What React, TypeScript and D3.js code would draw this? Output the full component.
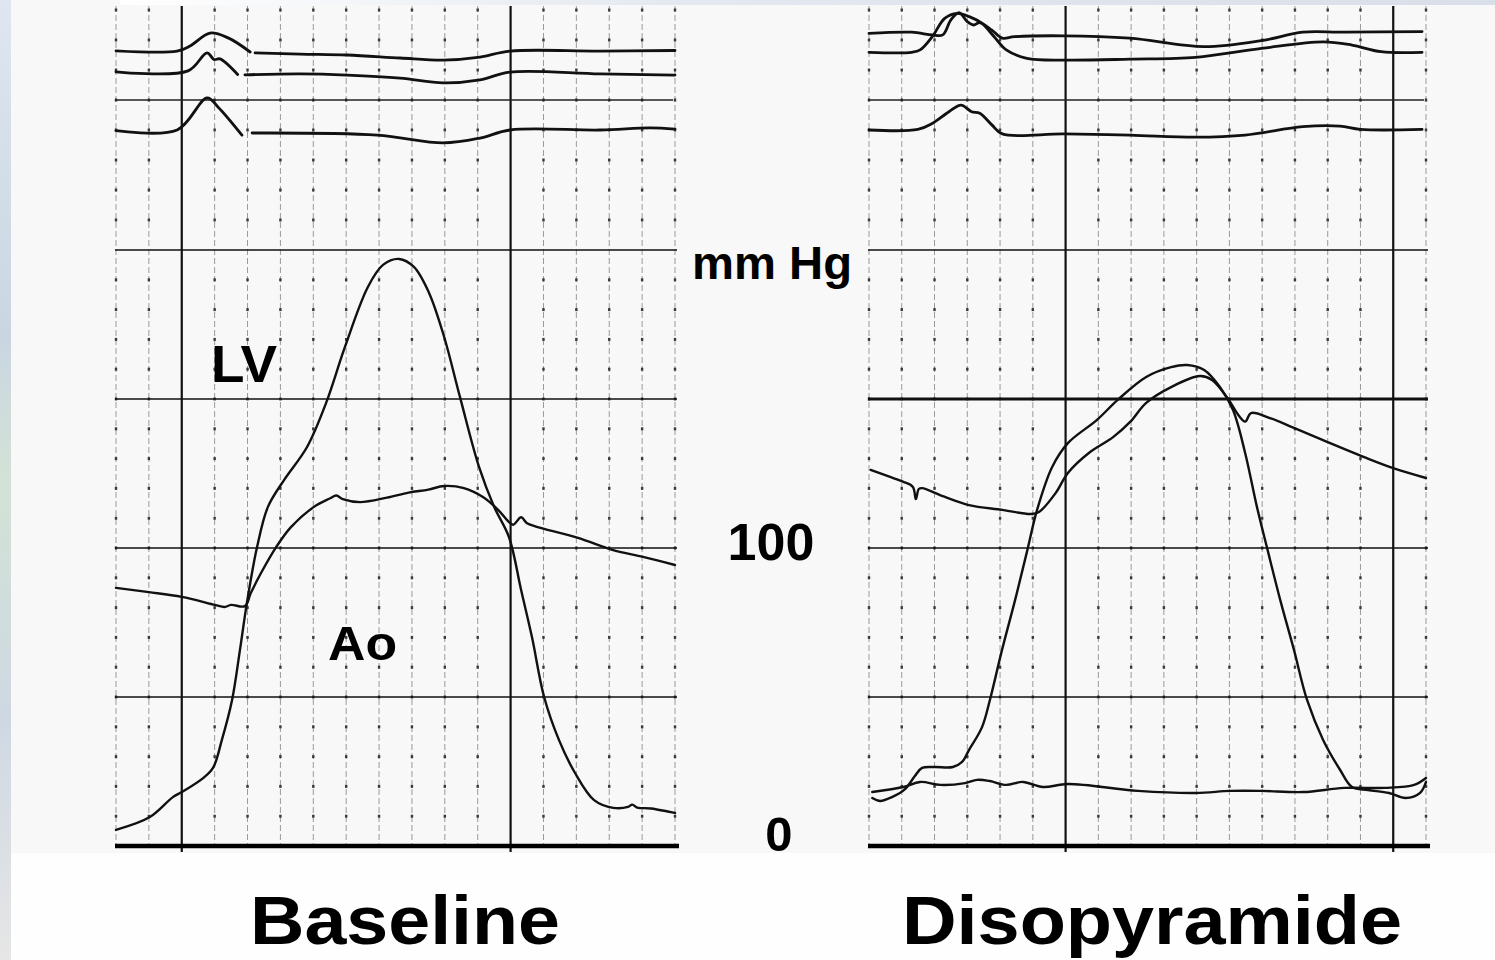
import React from 'react';
import * as d3 from 'd3';

type Pt = [number, number];

// ---- chart paper layout (small divisions along time) ----
const COLS = 17;
const pressureLines = [50, 100, 150, 200];
const tickLabels = ['0', '100'];
const tickValues = [0, 100];
const panelTitles = ['Baseline', 'Disopyramide'];
const baselineMajors = [2, 12];
const disoMajors = [6, 16];

// ---- Baseline: pressures in mmHg against time (small divisions) ----
const baselineLV: Pt[] = [
  [0, 5.4], [1.03, 9.7], [1.73, 16.4], [2.0, 18.1], [2.65, 22.8], [2.95, 26.2], [3.22, 35.6],
  [3.53, 49.0], [3.77, 65.8], [3.98, 81.5], [4.29, 100.3], [4.62, 113.8], [5.11, 122.8],
  [5.81, 133.9], [6.39, 148.7], [6.96, 167.4], [7.66, 187.6], [8.12, 195.0], [8.61, 197.0],
  [9.06, 194.3], [9.52, 185.6], [9.98, 170.8], [10.46, 150.7], [11.04, 127.2], [11.5, 113.8],
  [11.95, 103.7], [12.32, 85.9], [12.65, 70.1], [13.02, 50.0], [13.47, 35.6], [13.96, 24.5],
  [14.54, 15.4], [15.12, 12.8], [15.57, 13.1], [15.7, 13.9], [15.85, 12.9], [16.27, 12.6], [17, 11.1],
];

const baselineAo: Pt[] = [
  [0, 86.6], [1.0, 85.2], [2.0, 83.6], [3.01, 80.9], [3.3, 80.2], [3.5, 80.9], [3.92, 80.5],
  [4.1, 84.9], [4.41, 91.6], [4.87, 100.3], [5.32, 107.0], [6.02, 113.8], [6.5, 116.6],
  [6.7, 117.6], [6.9, 116.4], [7.42, 115.4], [8.24, 116.9], [8.9, 118.6], [9.5, 119.6],
  [9.98, 120.8], [10.58, 120.1], [11.16, 117.1], [11.62, 112.8], [11.95, 108.7],
  [12.08, 107.8], [12.32, 110.3], [12.5, 108.3], [12.77, 107.2], [14.05, 103.4],
  [15.12, 99.3], [16.03, 97.0], [17, 94.3],
];

// ---- Baseline: upper strip channels (divisions above the 200 mmHg line) ----
const baselineTop1: Pt[] = [
  [0, 6.64], [1.86, 6.63], [2.25, 6.8], [2.86, 7.23], [3.41, 7.07], [4.08, 6.6], [4.15, NaN],
  [4.23, 6.57], [5.6, 6.53], [7.03, 6.5], [8.64, 6.4], [9.95, 6.33], [11.07, 6.43],
  [11.98, 6.63], [14.72, 6.63], [17, 6.65],
];
const baselineTop2: Pt[] = [
  [0, 5.94], [2.19, 5.97], [2.77, 6.57], [2.98, 6.35], [3.16, 6.37], [3.7, 5.85], [3.8, NaN],
  [3.92, 5.84], [5.6, 5.87], [7.03, 5.83], [8.64, 5.73], [9.95, 5.57], [11.07, 5.67],
  [11.98, 5.93], [14.72, 5.87], [17, 5.83],
];
const baselineTop3: Pt[] = [
  [0, 3.98], [1.86, 4.0], [2.77, 5.07], [3.1, 4.77], [3.83, 3.83], [3.98, NaN],
  [4.14, 3.9], [7.94, 3.83], [9.95, 3.57], [11.07, 3.73], [11.98, 4.0], [14.72, 4.0],
  [16.24, 4.07], [17, 4.03],
];

// ---- Disopyramide: pressures in mmHg ----
const disoLV: Pt[] = [
  [0.1, 16.1], [0.34, 15.1], [0.7, 16.4], [1.1, 19.1], [1.4, 23.5], [1.62, 26.2], [2.01, 26.5],
  [2.56, 26.5], [2.84, 28.2], [3.05, 32.2], [3.45, 39.9], [3.69, 49.0], [4.06, 65.8],
  [4.46, 82.6], [4.82, 98.7], [5.13, 112.8], [5.59, 127.2], [6.07, 135.2], [6.96, 143.0],
  [7.59, 149.7], [8.46, 157.4], [9.22, 160.7], [9.71, 161.4], [10.23, 159.7], [10.71, 154.0],
  [11.11, 146.3], [11.48, 131.9], [11.84, 113.8], [12.18, 98.7], [12.55, 82.6], [12.97, 65.8],
  [13.37, 49.0], [13.86, 35.6], [14.38, 25.5], [14.74, 19.8], [15.23, 18.8], [15.87, 17.8],
  [16.38, 16.1], [16.82, 17.8], [17, 21.5],
];

const disoAo: Pt[] = [
  [0.05, 126.2], [0.6, 124.0], [1.05, 122.2], [1.34, 120.5], [1.43, 116.4], [1.52, 119.8],
  [1.62, 120.1], [2.3, 117.2], [3.05, 114.4], [4.06, 112.8], [4.95, 111.4], [5.19, 112.1],
  [5.7, 118.5], [6.07, 125.2], [6.71, 131.9], [7.45, 137.2], [7.97, 142.3], [8.46, 148.7],
  [9.22, 154.0], [10.1, 157.7], [10.47, 156.4], [10.98, 149.7], [11.23, 145.3], [11.48, 142.4],
  [11.66, 145.3], [12.24, 143.6], [12.97, 140.3], [13.98, 135.6], [15.11, 130.5],
  [16.0, 126.8], [17, 123.5],
];

const disoLow: Pt[] = [
  [0.1, 18.1], [1.05, 19.8], [1.56, 21.5], [2.18, 20.5], [2.93, 21.1], [3.3, 22.2], [3.69, 21.8],
  [4.18, 20.5], [4.7, 21.5], [5.31, 19.8], [6.07, 20.8], [8.21, 18.5], [9.98, 17.8],
  [11.02, 18.5], [11.98, 18.5], [13.25, 18.1], [14.5, 19.5], [15.75, 19.5], [16.64, 20.5],
  [17, 22.8],
];

// ---- Disopyramide: upper strip channels ----
const disoTop1: Pt[] = [
  [0, 7.22], [1.3, 7.26], [1.93, 7.17], [2.25, 7.17], [2.5, 7.67], [2.75, 7.91], [3.0, 7.61],
  [3.19, 7.5], [3.38, 7.58], [3.75, 7.33], [4.07, 7.06], [4.44, 7.11], [5.95, 7.14],
  [7.96, 7.06], [10.22, 6.78], [11.98, 6.98], [13.24, 7.26], [14.49, 7.26], [16.88, 7.28],
];
const disoTop2: Pt[] = [
  [0, 6.59], [1.3, 6.59], [1.56, 6.67], [1.93, 7.11], [2.31, 7.72], [2.69, 7.89], [3.06, 7.78],
  [3.44, 7.56], [3.82, 7.11], [4.19, 6.67], [4.82, 6.39], [5.95, 6.33], [7.96, 6.36],
  [9.97, 6.42], [11.98, 6.72], [13.87, 6.94], [14.74, 6.83], [15.63, 6.61], [16.88, 6.59],
];
const disoTop3: Pt[] = [
  [0, 4.0], [1.49, 4.02], [1.93, 4.22], [2.44, 4.61], [2.81, 4.83], [3.13, 4.61], [3.38, 4.56],
  [3.75, 4.17], [4.07, 3.87], [5.95, 3.87], [7.96, 3.83], [9.97, 3.76], [11.48, 3.83],
  [13.24, 4.11], [14.37, 4.13], [15.0, 4.02], [16.88, 4.02],
];

const W = 1495;
const H = 960;
const FONT = '"Liberation Sans", Arial, Helvetica, sans-serif';
const INK = '#111';

const yScale = d3.scaleLinear().domain([0, 200]).range([846, 250]);
const stripScale = d3.scaleLinear().domain([0, 8]).range([250, 10]);

type Panel = {
  title: string;
  x: d3.ScaleLinear<number, number>;
  majors: number[];
  heavy150: boolean;
  titleX: number;
  titleLen: number;
  pressure: Pt[][];
  strip: Pt[][];
};

const panels: Panel[] = [
  {
    title: panelTitles[0],
    x: d3.scaleLinear().domain([0, COLS]).range([116, 675]),
    majors: baselineMajors,
    heavy150: false,
    titleX: 250,
    titleLen: 310,
    pressure: [baselineAo, baselineLV],
    strip: [baselineTop1, baselineTop2, baselineTop3],
  },
  {
    title: panelTitles[1],
    x: d3.scaleLinear().domain([0, COLS]).range([869, 1426]),
    majors: disoMajors,
    heavy150: true,
    titleX: 902,
    titleLen: 500,
    pressure: [disoLow, disoAo, disoLV],
    strip: [disoTop1, disoTop2, disoTop3],
  },
];

function PanelGrid({ p }: { p: Panel }) {
  const cols = d3.range(0, COLS + 1);
  const [x0, x1] = p.x.range();
  const dotLevels = [
    ...d3.range(10, 200, 10).map((v) => yScale(v)),
    ...d3.range(1, 9).map((k) => stripScale(k)),
  ];
  return (
    <g>
      {cols.map((c) => {
        const major = p.majors.includes(c);
        const xx = p.x(c);
        return major ? (
          <line key={c} x1={xx} x2={xx} y1={6} y2={852} stroke={INK} strokeWidth={2.2} />
        ) : (
          <g key={c}>
            <line x1={xx} x2={xx} y1={6} y2={846} stroke="#9a9a9a" strokeWidth={1}
              strokeDasharray="6 3" />
            {dotLevels.map((yy, i) => (
              <rect key={i} x={xx - 1.2} y={yy - 1.5} width={2.4} height={3} fill="#3a3a3a" />
            ))}
          </g>
        );
      })}
      {pressureLines.map((v) => (
        <line key={v} x1={x0 - 1} x2={x1 + 2} y1={yScale(v)} y2={yScale(v)} stroke={INK}
          strokeWidth={p.heavy150 && v === 150 ? 3 : 1.6} />
      ))}
      <line x1={x0 - 1} x2={x1 - 2} y1={stripScale(5)} y2={stripScale(5)} stroke="#222"
        strokeWidth={1.6} />
      <line x1={x0 - 1} x2={x1 + 4} y1={yScale(0)} y2={yScale(0)} stroke="#000" strokeWidth={4.5} />
    </g>
  );
}

function PanelTraces({ p }: { p: Panel }) {
  const pressureLine = d3
    .line<Pt>()
    .defined((d) => !Number.isNaN(d[1]))
    .x((d) => p.x(d[0]))
    .y((d) => yScale(d[1]))
    .curve(d3.curveCatmullRom.alpha(0.5));
  const stripLine = d3
    .line<Pt>()
    .defined((d) => !Number.isNaN(d[1]))
    .x((d) => p.x(d[0]))
    .y((d) => stripScale(d[1]))
    .curve(d3.curveCatmullRom.alpha(0.5));
  return (
    <g fill="none" stroke={INK} strokeLinejoin="round" strokeLinecap="round">
      {p.pressure.map((s, i) => (
        <path key={'p' + i} d={pressureLine(s) || ''} strokeWidth={2.4} />
      ))}
      {p.strip.map((s, i) => (
        <path key={'s' + i} d={stripLine(s) || ''} strokeWidth={2.8} />
      ))}
    </g>
  );
}

export default function App() {
  return (
    <svg
      width={W}
      height={H}
      viewBox={`0 0 ${W} ${H}`}
      style={{ position: 'absolute', left: 0, top: 0, display: 'block', background: '#fff' }}
    >
      <defs>
        <linearGradient id="edge" x1="0" x2="0" y1="0" y2="1">
          <stop offset="0" stopColor="#dfe6ef" />
          <stop offset="0.35" stopColor="#c9d6e2" />
          <stop offset="0.5" stopColor="#d3e2d6" />
          <stop offset="0.75" stopColor="#cfd8e2" />
          <stop offset="1" stopColor="#e6e6e6" />
        </linearGradient>
        <linearGradient id="topEdge" x1="0" x2="1" y1="0" y2="0">
          <stop offset="0" stopColor="#ffffff" />
          <stop offset="0.4" stopColor="#e4e9f0" />
          <stop offset="1" stopColor="#d9dfe8" />
        </linearGradient>
      </defs>
      <rect x={0} y={0} width={W} height={H} fill="#fefefe" />
      <rect x={11} y={0} width={W - 11} height={853} fill="#f8f8f8" />
      <rect x={120} y={0} width={W - 120} height={5} fill="url(#topEdge)" />
      <rect x={0} y={0} width={11} height={H} fill="url(#edge)" />

      {panels.map((p) => (
        <g key={p.title}>
          <PanelGrid p={p} />
          <PanelTraces p={p} />
          <text x={p.titleX} y={944} fontFamily={FONT} fontWeight="bold" fontSize={68}
            fill="#000" textLength={p.titleLen} lengthAdjust="spacingAndGlyphs">
            {p.title}
          </text>
        </g>
      ))}

      <g fontFamily={FONT} fontWeight="bold" fill="#000">
        <text x={692} y={279} fontSize={46} textLength={160} lengthAdjust="spacingAndGlyphs">
          mm Hg
        </text>
        <text x={771} y={yScale(tickValues[1]) + 12} fontSize={52} textAnchor="middle">
          {tickLabels[1]}
        </text>
        <text x={779} y={yScale(tickValues[0]) + 5} fontSize={49} textAnchor="middle">
          {tickLabels[0]}
        </text>
        <text x={211} y={382} fontSize={51} textLength={66} lengthAdjust="spacingAndGlyphs">
          LV
        </text>
        <text x={328} y={660} fontSize={49} textLength={69} lengthAdjust="spacingAndGlyphs">
          Ao
        </text>
      </g>
    </svg>
  );
}
